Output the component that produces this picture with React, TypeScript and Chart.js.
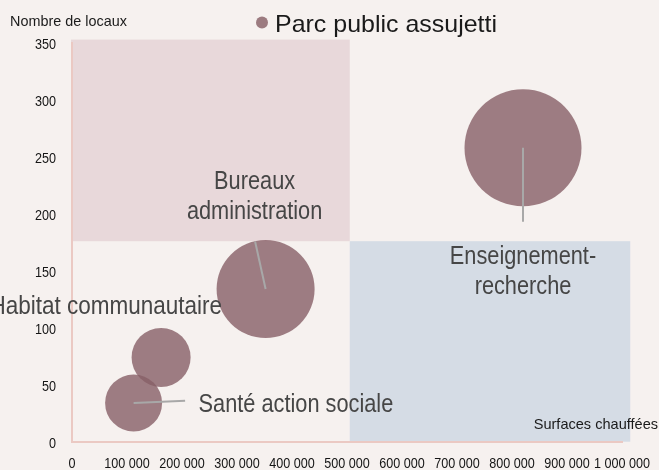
import React, { useEffect, useRef } from "react";
import { Chart, registerables } from "chart.js";

Chart.register(...registerables);

const categories = ["Enseignement-recherche", "Bureaux administration", "Habitat communautaire", "Santé action sociale"];
const surfaces = [820000, 352000, 162000, 112000];
const locaux = [258, 134, 74, 34];
const bubbleSizes = [58.5, 49, 29.5, 28.5];
const xTicks = [0, 100000, 200000, 300000, 400000, 500000, 600000, 700000, 800000, 900000, 1000000];
const yTicks = [0, 50, 100, 150, 200, 250, 300, 350];
const seriesName = "Parc public assujetti";
const yTitle = "Nombre de locaux";
const xTitle = "Surfaces chauffées";
const xDivider = 505000;
const yDivider = 176;

const FONT = '"Liberation Sans", Arial, sans-serif';
const BG = "#f6f1ef";

const fmt = (v: number) => Math.round(v).toString().replace(/\B(?=(\d{3})+(?!\d))/g, " ");

// draw condensed text; y is the cap-height centre
function drawText(ctx: CanvasRenderingContext2D, text: string, x: number, y: number, size: number, sx: number, align: CanvasTextAlign, color: string) {
  ctx.save();
  ctx.translate(x, y + size * 0.358);
  ctx.scale(sx, 1);
  ctx.font = `${size}px ${FONT}`;
  ctx.fillStyle = color;
  ctx.textAlign = align;
  ctx.textBaseline = "alphabetic";
  ctx.fillText(text, 0, 0);
  ctx.restore();
}

// label layout (pixel offsets from bubble centre)
const labelLayout = [
  { lines: ["Enseignement-", "recherche"], dx: 0, dy: 107, sx: 0.87, align: "center", leader: [0, 0, 0, 74] },
  { lines: ["Bureaux", "administration"], dx: -11, dy: -109, sx: 0.87, align: "center", leader: [0, 0, -10.5, -47.5] },
  { lines: ["Habitat communautaire"], dx: 61, dy: -52, sx: 0.9, align: "right", leader: null },
  { lines: ["Santé action sociale"], dx: 65, dy: 0, sx: 0.87, align: "left", leader: [0, 0, 51.5, -2.3] },
];

const plugin = {
  id: "decor",
  beforeDraw(chart: any) {
    const { ctx, scales } = chart;
    const x = scales.x, y = scales.y;
    ctx.save();
    ctx.fillStyle = BG;
    ctx.fillRect(0, 0, chart.width, chart.height);
    const x0 = x.getPixelForValue(0);
    const xd = x.getPixelForValue(xDivider);
    const xe = x.getPixelForValue(1015000);
    const yTop = y.getPixelForValue(353);
    const yd = y.getPixelForValue(yDivider);
    const y0 = y.getPixelForValue(0);
    ctx.fillStyle = "#e8d8da";
    ctx.fillRect(x0 - 1, yTop, xd - x0 + 1, yd - yTop);
    ctx.fillStyle = "#d5dce5";
    ctx.fillRect(xd, yd, xe - xd, y0 - yd);
    ctx.restore();
  },
  afterDraw(chart: any) {
    const { ctx, scales } = chart;
    const meta = chart.getDatasetMeta(0);
    ctx.save();
    meta.data.forEach((el: any, i: number) => {
      const L = labelLayout[i];
      const cx = el.x, cy = el.y;
      if (L.leader) {
        ctx.strokeStyle = "#a8a8a8";
        ctx.lineWidth = 2;
        ctx.beginPath();
        ctx.moveTo(cx + L.leader[0], cy + L.leader[1]);
        ctx.lineTo(cx + L.leader[2], cy + L.leader[3]);
        ctx.stroke();
      }
      L.lines.forEach((t, j) => {
        drawText(ctx, t, cx + L.dx, cy + L.dy + j * 30, 25, L.sx, L.align as CanvasTextAlign, "#464646");
      });
    });
    // tick labels
    scales.y.ticks.forEach((t: any) => {
      drawText(ctx, String(t.value), 56, scales.y.getPixelForValue(t.value) + 1, 14, 0.9, "right", "#151515");
    });
    scales.x.ticks.forEach((t: any) => {
      drawText(ctx, fmt(t.value), scales.x.getPixelForValue(t.value), 462.8, 15, 0.84, "center", "#151515");
    });
    // legend
    ctx.fillStyle = "#9c7b80";
    ctx.beginPath();
    ctx.arc(262, 22.5, 6, 0, Math.PI * 2);
    ctx.fill();
    drawText(ctx, seriesName, 275, 23, 24, 1.04, "left", "#1a1a1a");
    // axis titles
    drawText(ctx, yTitle, 10, 20.5, 15, 0.96, "left", "#1a1a1a");
    drawText(ctx, xTitle, 658, 423.8, 15, 0.97, "right", "#1a1a1a");
    ctx.restore();
  },
};

export default function App() {
  const ref = useRef<HTMLCanvasElement>(null);
  useEffect(() => {
    document.body.style.margin = "0";
    const chart = new Chart(ref.current as HTMLCanvasElement, {
      type: "bubble",
      data: {
        datasets: [
          {
            label: seriesName,
            data: categories.map((c, i) => ({ x: surfaces[i], y: locaux[i], r: bubbleSizes[i] })),
            backgroundColor: "rgba(135, 95, 103, 0.8)",
            borderWidth: 0,
            hoverRadius: 0,
            clip: false,
          },
        ],
      },
      options: {
        animation: false,
        responsive: false,
        maintainAspectRatio: false,
        events: [],
        layout: { autoPadding: false, padding: { top: 43, right: 37, left: 0, bottom: 0 } },
        plugins: { legend: { display: false }, tooltip: { enabled: false } },
        scales: {
          x: {
            type: "linear",
            min: 0,
            max: 1000000,
            afterFit: (s: any) => { s.height = 28.3; s.paddingLeft = 0; s.paddingRight = 0; },
            afterBuildTicks: (s: any) => { s.ticks = xTicks.map((v) => ({ value: v })); },
            grid: { display: false, drawTicks: false },
            border: { display: true, color: "#ebc9c3", width: 2 },
            ticks: { display: false },
          },
          y: {
            type: "linear",
            min: 0,
            max: 350,
            afterFit: (s: any) => { s.width = 72; s.paddingTop = 0; s.paddingBottom = 0; },
            afterBuildTicks: (s: any) => { s.ticks = yTicks.map((v) => ({ value: v })); },
            grid: { display: false, drawTicks: false },
            border: { display: true, color: "#ebc9c3", width: 2 },
            ticks: { display: false },
          },
        },
      },
      plugins: [plugin],
    });
    return () => chart.destroy();
  }, []);
  return (
    <div style={{ position: "fixed", left: 0, top: 0, width: 659, height: 470, background: BG }}>
      <canvas ref={ref} width={659} height={470} style={{ width: 659, height: 470, display: "block" }} />
    </div>
  );
}
